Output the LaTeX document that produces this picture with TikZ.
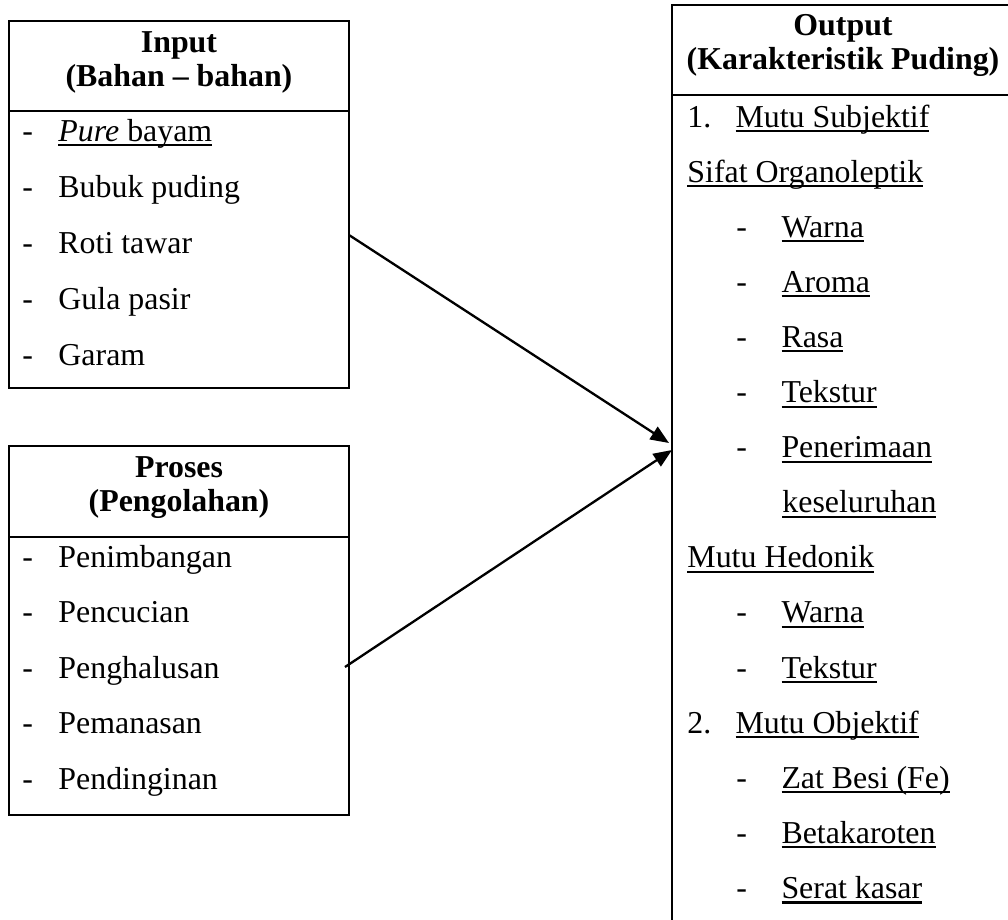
\documentclass[tikz,border=0pt]{standalone}
\usepackage{fontspec}
\setmainfont{Liberation Serif}
\usetikzlibrary{arrows.meta, fit}

\newsavebox{\ulbox}
\newcommand{\ulined}[1]{\sbox{\ulbox}{#1}\rlap{\rule[-2.2pt]{\wd\ulbox}{0.9pt}}\usebox{\ulbox}}
\newcommand{\leftitem}[1]{\makebox[15.6pt][l]{-}#1}
\newcommand{\outnum}[2]{\makebox[20.8pt][l]{#1}\ulined{#2}}
\newcommand{\outsub}[1]{\makebox[19.5pt][l]{-}\ulined{#1}}

\begin{document}
\begin{tikzpicture}[x=0.4329pt, y=-0.4329pt,
	box/.style={draw, line width=1.15pt, inner sep=0pt},
	txt/.style={anchor=base west, inner sep=0pt, font=\fontsize{13.8}{16}\selectfont},
	head/.style={anchor=base, inner sep=0pt, font=\fontsize{13.8}{16}\selectfont\bfseries},
	arr/.style={-{Triangle[length=8pt,width=6.4pt]}, line width=1pt}]
					\useasboundingbox (0,0) rectangle (1008,919);

					\node[box, fit={(9,21) (349,388)}] (inbox) {};
					\node[box, fit={(9,446) (349,815)}] (prbox) {};
					\node[box, fit={(672,5) (1014,940)}] (outbox) {};

					\coordinate (indiv) at (9,111);
					\coordinate (prdiv) at (9,537);
					\coordinate (outdiv) at (672,95);
					\draw[line width=1.15pt] (indiv) -- (inbox.east |- indiv);
					\draw[line width=1.15pt] (prdiv) -- (prbox.east |- prdiv);
					\draw[line width=1.15pt] (outdiv) -- (outbox.east |- outdiv);

					\node[head] (intitle) at (179,52) {Input};
					\node[head] (insub) at (179,86) {(Bahan – bahan)};
					\node[txt] (in1) at (22,141) {\leftitem{\ulined{\textit{Pure} bayam}}};
					\node[txt] (in2) at (22,197) {\leftitem{Bubuk puding}};
					\node[txt] (in3) at (22,253) {\leftitem{Roti tawar}};
					\node[txt] (in4) at (22,309) {\leftitem{Gula pasir}};
					\node[txt] (in5) at (22,365) {\leftitem{Garam}};

					\node[head] (prtitle) at (179,477) {Proses};
					\node[head] (prsub) at (179,511) {(Pengolahan)};
					\node[txt] (pr1) at (22,567) {\leftitem{Penimbangan}};
					\node[txt] (pr2) at (22,622.5) {\leftitem{Pencucian}};
					\node[txt] (pr3) at (22,678) {\leftitem{Penghalusan}};
					\node[txt] (pr4) at (22,733.5) {\leftitem{Pemanasan}};
					\node[txt] (pr5) at (22,789) {\leftitem{Pendinginan}};

					\node[head] (outtitle) at (843,35) {Output};
					\node[head] (outsub) at (843,69) {(Karakteristik Puding)};
					\node[txt] (o1) at (687,127) {\outnum{1.}{Mutu Subjektif}};
					\node[txt] (o2) at (687,182.1) {\ulined{Sifat Organoleptik}};
					\node[txt] (o3) at (736,237.2) {\outsub{Warna}};
					\node[txt] (o4) at (736,292.3) {\outsub{Aroma}};
					\node[txt] (o5) at (736,347.4) {\outsub{Rasa}};
					\node[txt] (o6) at (736,402.5) {\outsub{Tekstur}};
					\node[txt] (o7) at (736,457.6) {\outsub{Penerimaan}};
					\node[txt] (o8) at (782,512.7) {\ulined{keseluruhan}};
					\node[txt] (o9) at (687,567.8) {\ulined{Mutu Hedonik}};
					\node[txt] (o10) at (736,622.9) {\outsub{Warna}};
					\node[txt] (o11) at (736,678) {\outsub{Tekstur}};
					\node[txt] (o12) at (687,733.1) {\outnum{2.}{Mutu Objektif}};
					\node[txt] (o13) at (736,788.2) {\outsub{Zat Besi (Fe)}};
					\node[txt] (o14) at (736,843.3) {\outsub{Betakaroten}};
					\node[txt] (o15) at (736,898.4) {\outsub{Serat kasar}};

					\coordinate (from1) at (349,235);
					\coordinate (from2) at (345,667);
					\coordinate (to1) at (669,443);
					\coordinate (to2) at (672,450);
					\draw[arr] (from1) -- (to1);
					\draw[arr] (from2) -- (to2);
				\end{tikzpicture}
\end{document}
